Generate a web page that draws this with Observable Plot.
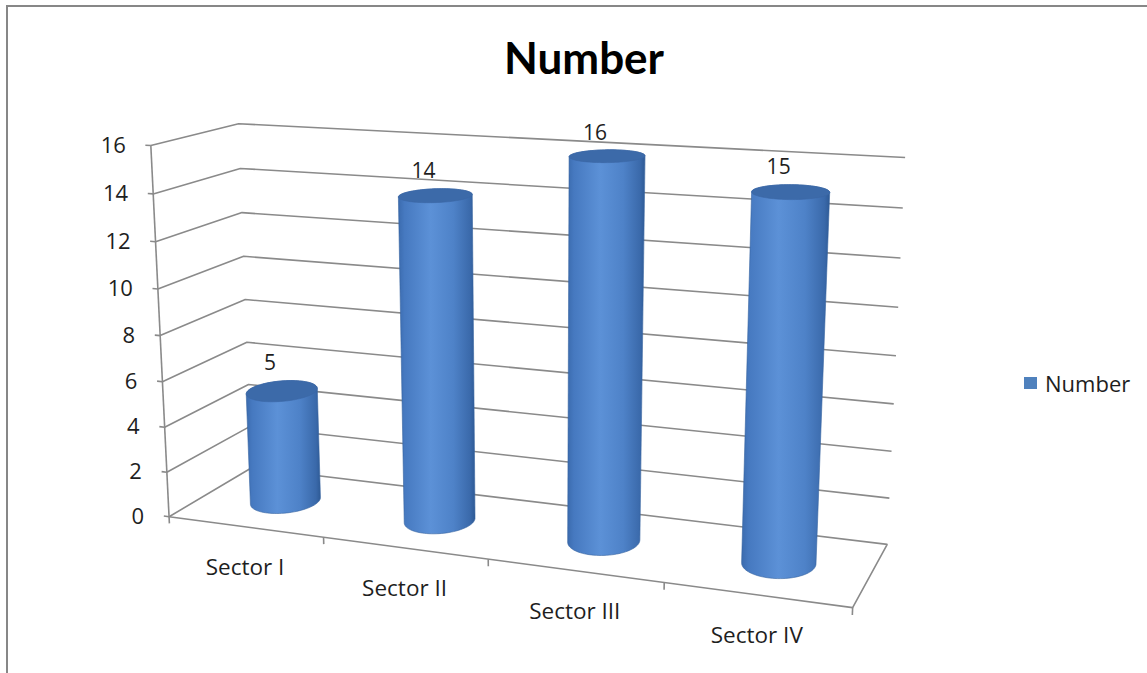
<!DOCTYPE html>
<html><head><meta charset="utf-8">
<script src="https://cdn.jsdelivr.net/npm/d3@7"></script>
<script src="https://cdn.jsdelivr.net/npm/@observablehq/plot@0.6"></script>
<style>
html,body{margin:0;padding:0;background:#fff;overflow:hidden;}
#wrap{position:relative;width:1147px;height:673px;overflow:hidden;}
#frame{position:absolute;left:6px;top:5px;width:1300px;height:800px;border:2px solid #878787;box-sizing:border-box;pointer-events:none;}
#legend{position:absolute;left:1024px;top:368px;font:22px "Open Sans",sans-serif;color:#1e1e1e;display:flex;align-items:center;white-space:nowrap;}
#legend .sw{display:inline-block;width:13px;height:12px;background:#4f81bd;margin-right:8px;}
</style></head>
<body><div id="wrap"><div id="chart"></div><div id="frame"></div><div id="legend"><span class="sw"></span><span id="legtext"></span></div></div>
<script>
// ---- data ----
const title = "Number";
const seriesName = "Number";
const categories = ["Sector I", "Sector II", "Sector III", "Sector IV"];
const values = [5, 14, 16, 15];
const yTicks = [0, 2, 4, 6, 8, 10, 12, 14, 16];
const yMax = 16;

// ---- 3D view calibration: [category pos, value, depth, screenX, screenY] ----
const VIEW = [
  [0,0,0,170,517],[1,0,0,323,537],[2,0,0,489,559],[3,0,0,657,581],[4,0,0,852,606],
  [0,8,0,159,336],[0,16,0,151,144],
  [0,0,1,251,466],[0,8,1,245,300],[0,16,1,238,123],
  [4,0,1,884,543],[4,8,1,894,356],[4,16,1,905,157],
  [0.5,0,0.5,284,500],[1.5,0,0.5,437,519],[2.5,0,0.5,606,540],[3.5,0,0.5,787,565]
];
const W = 1147, H = 673;
const CU = 574, CV = 336, S = 500, YS = 4;

function fitView(pts){
  const rows=[], rhs=[];
  for (const [X,Yv,Z,u0,v0] of pts){
    const Y = Yv/YS, u=(u0-CU)/S, v=(v0-CV)/S;
    rows.push([X,Y,Z,1,0,0,0,0,-u*X,-u*Y,-u*Z]); rhs.push(u);
    rows.push([0,0,0,0,X,Y,Z,1,-v*X,-v*Y,-v*Z]); rhs.push(v);
  }
  const n=11;
  const M=Array.from({length:n},()=>new Array(n+1).fill(0));
  rows.forEach((r,k)=>{for(let i=0;i<n;i++){for(let j=0;j<n;j++)M[i][j]+=r[i]*r[j];M[i][n]+=r[i]*rhs[k];}});
  for(let c=0;c<n;c++){
    let p=c; for(let r=c+1;r<n;r++) if(Math.abs(M[r][c])>Math.abs(M[p][c])) p=r;
    [M[c],M[p]]=[M[p],M[c]];
    for(let r=0;r<n;r++){ if(r===c) continue; const f=M[r][c]/M[c][c]; for(let j=c;j<=n;j++) M[r][j]-=f*M[c][j]; }
  }
  return M.map((row,i)=>row[n]/row[i]);
}
const m = fitView(VIEW);
function proj(X, Yv, Z){
  const Y = Yv/YS;
  const w = m[8]*X + m[9]*Y + m[10]*Z + 1;
  return {x: (m[0]*X+m[1]*Y+m[2]*Z+m[3])/w*S+CU, y: (m[4]*X+m[5]*Y+m[6]*Z+m[7])/w*S+CV};
}
const NC = categories.length;

// gridlines + axes
const gridRows = [];
function seg(id, pts){ pts.forEach(p=>gridRows.push({id, ...proj(...p)})); }
yTicks.forEach(t=>{
  if (t===0) seg("floor",[[0,0,0],[0,0,1],[NC,0,1],[NC,0,0],[0,0,0]]);
  else seg("g"+t,[[0,t,0],[0,t,1],[NC,t,1]]);
  seg("yt"+t,[[0,t,0],[-0.035,t,0]]);
});
seg("yaxis",[[0,0,0],[0,yMax,0]]);
d3.range(NC+1).forEach(k=>seg("xt"+k,[[k,0,0],[k,-0.3,0]]));

// cylinders
const R = 0.198, RZ = 0.24, ZC = 0.5, N = 90;
function ellipse(cx, v){ return d3.range(N).map(k=>{const a=2*Math.PI*k/N; return proj(cx+R*Math.cos(a), v, ZC+RZ*Math.sin(a));}); }
const bodyRows=[], capRows=[], valRows=[];
values.forEach((v,i)=>{
  const cx=i+0.5;
  const top=ellipse(cx,v), bot=ellipse(cx,0);
  const hull=d3.polygonHull([...top,...bot].map(p=>[p.x,p.y]));
  hull.forEach(([x,y])=>bodyRows.push({id:i,x,y}));
  top.forEach(p=>capRows.push({id:i,...p}));
  const minY = d3.min(top,p=>p.y);
  valRows.push({x: proj(cx,v,ZC).x, y: minY, text: String(v)});
});
const yLabelRows = yTicks.map(t=>({...proj(0,t,0), text:String(t)}));
const catRows = categories.map((c,i)=>({...proj(i+0.5,0,0), text:c}));

const chart = Plot.plot({
  width: W, height: H, margin: 0,
  x: {domain:[0,W], range:[0,W], axis:null},
  y: {domain:[0,H], range:[0,H], axis:null},
  style: {fontFamily:"'Open Sans', sans-serif", background:"white", overflow:"visible"},
  marks: [
    Plot.line(gridRows, {x:"x", y:"y", z:"id", stroke:"#8a8a8a", strokeWidth:1.6, strokeLinecap:"butt", strokeLinejoin:"miter"}),
    Plot.line(bodyRows, {x:"x", y:"y", z:"id", fill:"url(#cylGrad)", stroke:"#36639f", strokeWidth:0.6, curve:"linear-closed"}),
    Plot.line(capRows, {x:"x", y:"y", z:"id", fill:"#3c6aa9", stroke:"#3a67a5", strokeWidth:0.6, curve:"linear-closed"}),
    Plot.text(yLabelRows, {x:"x", y:"y", text:"text", textAnchor:"end", dx:-25, fontSize:22, fill:"#1e1e1e"}),
    Plot.text(catRows, {x:"x", y:"y", text:"text", dy:41, fontSize:22.5, fill:"#1e1e1e"}),
    Plot.text(valRows, {x:"x", y:"y", text:"text", dx:-12, dy:-17, fontSize:21, fill:"#1e1e1e"}),
    Plot.text([title], {text:d=>d, frameAnchor:"top", dx:10, dy:42, fontSize:44, fontWeight:"bold", fontFamily:"Lato, sans-serif", fill:"#000"})
  ]
});
const defs = d3.select(chart).insert("defs", ":first-child");
const g = defs.append("linearGradient").attr("id","cylGrad").attr("x1",0).attr("x2",1).attr("y1",0).attr("y2",0);
[[0,"#3b6bae"],[0.08,"#4679c0"],[0.42,"#5c91d7"],[0.72,"#4e82c8"],[0.94,"#3a69aa"],[1,"#2e5a95"]]
  .forEach(([o,c])=>g.append("stop").attr("offset",o).attr("stop-color",c));
document.getElementById("chart").appendChild(chart);
document.getElementById("legtext").textContent = seriesName;
</script>
</body></html>
